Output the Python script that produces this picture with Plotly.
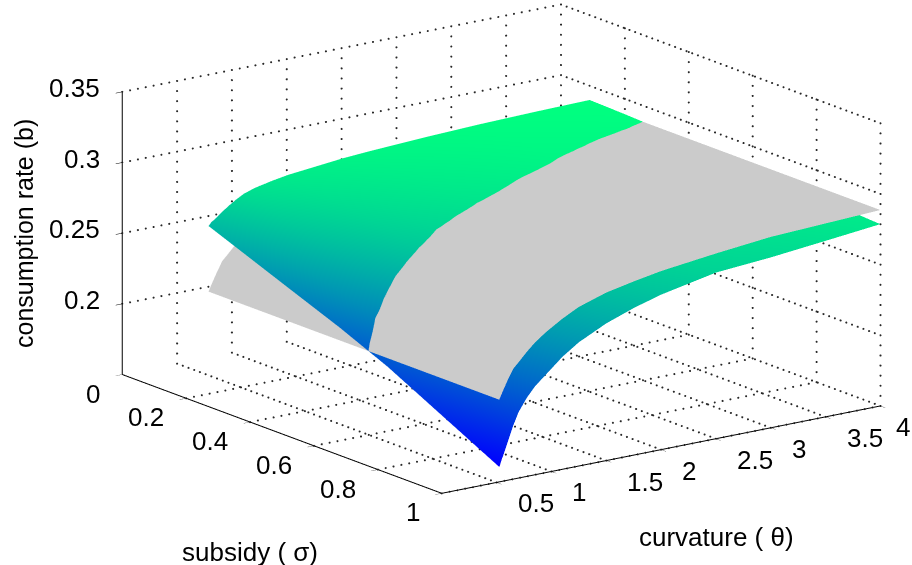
import plotly.graph_objects as go

subsidy = [0.09, 0.2, 0.35, 0.5, 0.65, 0.8, 1.0]
curvature = [0.525, 0.55, 0.6, 0.65, 0.7, 0.775, 0.85, 0.95, 1.1, 1.25, 1.5, 1.75, 2.0, 2.5, 3.0, 3.5, 4.0]

# rows follow curvature, columns follow subsidy
rate_colored = [
    [0.2545, 0.2445, 0.2308, 0.2172, 0.2021, 0.1843, 0.1605],
    [0.2568, 0.2472, 0.2340, 0.2208, 0.2062, 0.1890, 0.1660],
    [0.2595, 0.2509, 0.2392, 0.2275, 0.2141, 0.1980, 0.1765],
    [0.2627, 0.2549, 0.2442, 0.2335, 0.2211, 0.2067, 0.1875],
    [0.2655, 0.2578, 0.2473, 0.2367, 0.2252, 0.2129, 0.1965],
    [0.2693, 0.2619, 0.2518, 0.2417, 0.2311, 0.2201, 0.2055],
    [0.2725, 0.2655, 0.2559, 0.2464, 0.2363, 0.2261, 0.2125],
    [0.2750, 0.2686, 0.2599, 0.2511, 0.2417, 0.2321, 0.2193],
    [0.2775, 0.2721, 0.2647, 0.2573, 0.2490, 0.2407, 0.2295],
    [0.2795, 0.2749, 0.2687, 0.2625, 0.2550, 0.2475, 0.2375],
    [0.2815, 0.2778, 0.2729, 0.2677, 0.2615, 0.2553, 0.2470],
    [0.2835, 0.2802, 0.2758, 0.2711, 0.2660, 0.2608, 0.2540],
    [0.2848, 0.2820, 0.2783, 0.2743, 0.2699, 0.2655, 0.2596],
    [0.2868, 0.2846, 0.2816, 0.2784, 0.2751, 0.2718, 0.2675],
    [0.2883, 0.2868, 0.2848, 0.2815, 0.2782, 0.2749, 0.2705],
    [0.2893, 0.2880, 0.2860, 0.2833, 0.2807, 0.2781, 0.2745],
    [0.2900, 0.2892, 0.2876, 0.2855, 0.2834, 0.2813, 0.2786],
]
rate_gray_by_curvature = [0.2081, 0.2125, 0.2205, 0.2278, 0.2318, 0.238, 0.2435, 0.2493, 0.2565,
                          0.2625, 0.2688, 0.2728, 0.2763, 0.281, 0.285, 0.2868, 0.2886]

subsidy_ticks = [0, 0.2, 0.4, 0.6, 0.8, 1]
subsidy_labels = ["0", "0.2", "0.4", "0.6", "0.8", "1"]
curvature_ticks = [0.5, 1, 1.5, 2, 2.5, 3, 3.5, 4]
curvature_labels = ["0.5", "1", "1.5", "2", "2.5", "3", "3.5", "4"]
rate_ticks = [0.2, 0.25, 0.3, 0.35]
rate_labels = ["0.2", "0.25", "0.3", "0.35"]

S_RANGE = [0, 1]
T_RANGE = [0, 4]
Z_RANGE = [0.15, 0.35]

rate_gray = [[v] * len(subsidy) for v in rate_gray_by_curvature]
flat = dict(ambient=1, diffuse=0, specular=0, roughness=1, fresnel=0)

fig = go.Figure()
fig.add_surface(x=subsidy, y=curvature, z=rate_colored, cmin=0.1605, cmax=0.29,
                colorscale=[[0, "rgb(0,0,255)"], [1, "rgb(0,255,128)"]],
                showscale=False, lighting=flat, hoverinfo="skip")
fig.add_surface(x=subsidy, y=curvature, z=rate_gray, cmin=0, cmax=1,
                colorscale=[[0, "rgb(203,203,203)"], [1, "rgb(203,203,203)"]],
                showscale=False, lighting=flat, hoverinfo="skip")


s0, s1 = S_RANGE
t0, t1 = T_RANGE
z0, z1 = Z_RANGE
grid = []
for s in subsidy_ticks[1:]:
    grid.append(((s, t0, z0), (s, t1, z0)))
    grid.append(((s, t1, z0), (s, t1, z1)))
for t in curvature_ticks:
    grid.append(((s0, t, z0), (s1, t, z0)))
    grid.append(((s0, t, z0), (s0, t, z1)))
for z in rate_ticks:
    grid.append(((s0, t0, z), (s0, t1, z)))
    grid.append(((s0, t1, z), (s1, t1, z)))

dx, dy, dz = [], [], []
for a, b in grid:
    n = 28 if a[2] != b[2] else 56
    for i in range(n + 1):
        f = i / n
        dx.append(a[0] + (b[0] - a[0]) * f)
        dy.append(a[1] + (b[1] - a[1]) * f)
        dz.append(a[2] + (b[2] - a[2]) * f)
fig.add_scatter3d(x=dx, y=dy, z=dz, mode="markers", showlegend=False, hoverinfo="skip",
                  marker=dict(color="rgb(40,40,40)", size=1.2, line=dict(width=0)))

ax = [((s0, t0, z0), (s0, t0, z1)), ((s0, t0, z0), (s1, t0, z0)), ((s1, t0, z0), (s1, t1, z0))]
lx, ly, lz = [], [], []
for a, b in ax:
    lx += [a[0], b[0], None]
    ly += [a[1], b[1], None]
    lz += [a[2], b[2], None]
fig.add_scatter3d(x=lx, y=ly, z=lz, mode="lines", showlegend=False, hoverinfo="skip",
                  line=dict(color="black", width=2), connectgaps=False)

eye_dir = (0.776, -0.568, 0.272)
R = 2.0
center = (-0.0687, -0.1487, -0.1145)
K = 1.915
TICK_FONT = dict(family="Liberation Sans", size=26, color="black")


def axis(rng, vals, labels):
    return dict(range=rng, tickvals=vals, ticktext=labels, title=dict(text=""),
                showgrid=False, zeroline=False, showbackground=False, showspikes=False,
                showline=False, ticks="outside", ticklen=8, tickcolor="black", tickwidth=1,
                showticklabels=False)


tick_notes = []
for s, lab in zip(subsidy_ticks, subsidy_labels):
    tick_notes.append(dict(x=s, y=t0, z=z0, text=lab, showarrow=False, xanchor="right", yanchor="middle",
                           xshift=-20, yshift=-19, font=TICK_FONT))
for t, lab in zip(curvature_ticks, curvature_labels):
    tick_notes.append(dict(x=s1, y=t, z=z0, text=lab, showarrow=False, xanchor="left", yanchor="middle",
                           xshift=14 if t == t1 else 19, yshift=-21, font=TICK_FONT))
for z, lab in zip(rate_ticks, rate_labels):
    tick_notes.append(dict(x=s0, y=t0, z=z, text=lab, showarrow=False, xanchor="right", yanchor="middle",
                           xshift=-20, yshift=4, font=TICK_FONT))

fig.update_layout(
    width=912, height=565, paper_bgcolor="white", showlegend=False,
    margin=dict(l=0, r=0, t=0, b=0),
    font=dict(family="Liberation Sans", color="black"),
    scene=dict(
        domain=dict(x=[0, 1], y=[0, 1]),
        xaxis=axis(S_RANGE, subsidy_ticks, subsidy_labels),
        yaxis=axis(T_RANGE, curvature_ticks, curvature_labels),
        zaxis=axis(Z_RANGE, rate_ticks, rate_labels),
        aspectmode="manual", aspectratio=dict(x=K, y=1.005 * K, z=0.543 * K),
        annotations=tick_notes,
        camera=dict(projection=dict(type="orthographic"), up=dict(x=0, y=0, z=1),
                    center=dict(x=center[0], y=center[1], z=center[2]),
                    eye=dict(x=center[0] + R * eye_dir[0], y=center[1] + R * eye_dir[1],
                             z=center[2] + R * eye_dir[2])),
    ),
    annotations=[
        dict(text="consumption rate (b)", x=24 / 912, y=1 - 234 / 565, xref="paper", yref="paper",
             xanchor="center", yanchor="middle",
             showarrow=False, textangle=-90, font=dict(size=25)),
        dict(text="subsidy ( σ)", x=250 / 912, y=1 - 552 / 565, xref="paper", yref="paper",
             xanchor="center", yanchor="middle", showarrow=False, font=dict(size=26)),
        dict(text="curvature ( θ)", x=716 / 912, y=1 - 537 / 565, xref="paper", yref="paper",
             xanchor="center", yanchor="middle", showarrow=False, font=dict(size=26)),
    ],
)
fig.write_html("out.html", config=dict(displayModeBar=False),
               post_script="document.body.style.margin='0';document.documentElement.style.overflow='hidden';")
